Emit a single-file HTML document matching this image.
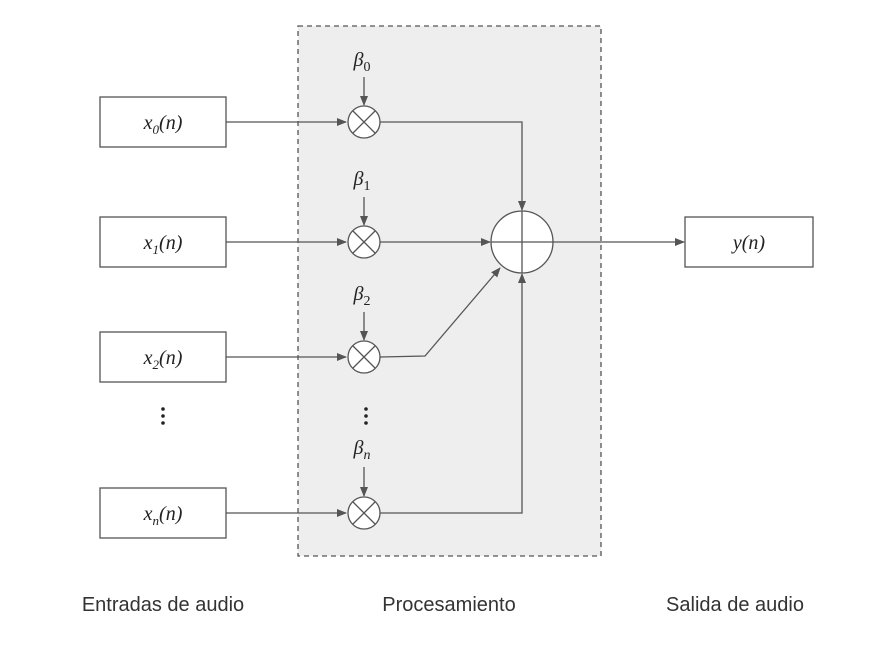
<!DOCTYPE html>
<html><head><style>body{margin:0;background:#fff}</style></head><body>
<svg width="889" height="651" xmlns="http://www.w3.org/2000/svg" font-family="Liberation Sans, sans-serif">
<defs><marker id="a" markerWidth="10" markerHeight="8" refX="9" refY="4" orient="auto" markerUnits="userSpaceOnUse"><path d="M0,0L10,4L0,8z" fill="#555"/></marker></defs>
<rect x="298" y="26" width="303" height="530" fill="#eee" stroke="#555" stroke-width="1.3" stroke-dasharray="5,4"/>
<g fill="#fff" stroke="#555" stroke-width="1.3">
<rect x="100" y="97" width="126" height="50"/>
<rect x="100" y="217" width="126" height="50"/>
<rect x="100" y="332" width="126" height="50"/>
<rect x="100" y="488" width="126" height="50"/>
<rect x="685" y="217" width="128" height="50"/>
</g>
<g font-family="Liberation Serif, serif" font-style="italic" font-size="20" fill="#222" text-anchor="middle">
<text x="163" y="129">x<tspan font-size="13" dy="5">0</tspan><tspan dy="-5">(n)</tspan></text>
<text x="163" y="249">x<tspan font-size="13" dy="5">1</tspan><tspan dy="-5">(n)</tspan></text>
<text x="163" y="364">x<tspan font-size="13" dy="5">2</tspan><tspan dy="-5">(n)</tspan></text>
<text x="163" y="520">x<tspan font-size="13" dy="5">n</tspan><tspan dy="-5">(n)</tspan></text>
<text x="749" y="249">y(n)</text>
<text x="362" y="66">β<tspan font-style="normal" font-size="14" dy="5">0</tspan></text>
<text x="362" y="185">β<tspan font-style="normal" font-size="14" dy="5">1</tspan></text>
<text x="362" y="300">β<tspan font-style="normal" font-size="14" dy="5">2</tspan></text>
<text x="362" y="454">β<tspan font-size="14" dy="5">n</tspan></text>
</g>
<g stroke="#555" stroke-width="1.3" fill="none">
<line x1="226" y1="122" x2="346" y2="122" marker-end="url(#a)"/>
<line x1="226" y1="242" x2="346" y2="242" marker-end="url(#a)"/>
<line x1="226" y1="357" x2="346" y2="357" marker-end="url(#a)"/>
<line x1="226" y1="513" x2="346" y2="513" marker-end="url(#a)"/>
<line x1="364" y1="77" x2="364" y2="105" marker-end="url(#a)"/>
<line x1="364" y1="197" x2="364" y2="225" marker-end="url(#a)"/>
<line x1="364" y1="312" x2="364" y2="340" marker-end="url(#a)"/>
<line x1="364" y1="467" x2="364" y2="496" marker-end="url(#a)"/>
<path d="M380,122H522V210" marker-end="url(#a)"/>
<path d="M380,242H490" marker-end="url(#a)"/>
<path d="M380,357L425,356L500,268" marker-end="url(#a)"/>
<path d="M380,513H522V274" marker-end="url(#a)"/>
<path d="M553,242H684" marker-end="url(#a)"/>
</g>
<g stroke="#555" stroke-width="1.3" fill="#fff">
<circle cx="364" cy="122" r="16"/><circle cx="364" cy="242" r="16"/><circle cx="364" cy="357" r="16"/><circle cx="364" cy="513" r="16"/>
<circle cx="522" cy="242" r="31"/>
</g>
<g stroke="#555" stroke-width="1.3">
<path d="M353,111L375,133M375,111L353,133"/>
<path d="M353,231L375,253M375,231L353,253"/>
<path d="M353,346L375,368M375,346L353,368"/>
<path d="M353,502L375,524M375,502L353,524"/>
<path d="M491,242H553M522,211V273"/>
</g>
<g fill="#222"><circle cx="163" cy="409" r="1.8"/><circle cx="163" cy="416" r="1.8"/><circle cx="163" cy="423" r="1.8"/>
<circle cx="366" cy="409" r="1.8"/><circle cx="366" cy="416" r="1.8"/><circle cx="366" cy="423" r="1.8"/></g>
<g font-size="20" fill="#333" text-anchor="middle">
<text x="163" y="611">Entradas de audio</text>
<text x="449" y="611">Procesamiento</text>
<text x="735" y="611">Salida de audio</text>
</g>
</svg>
</body></html>
